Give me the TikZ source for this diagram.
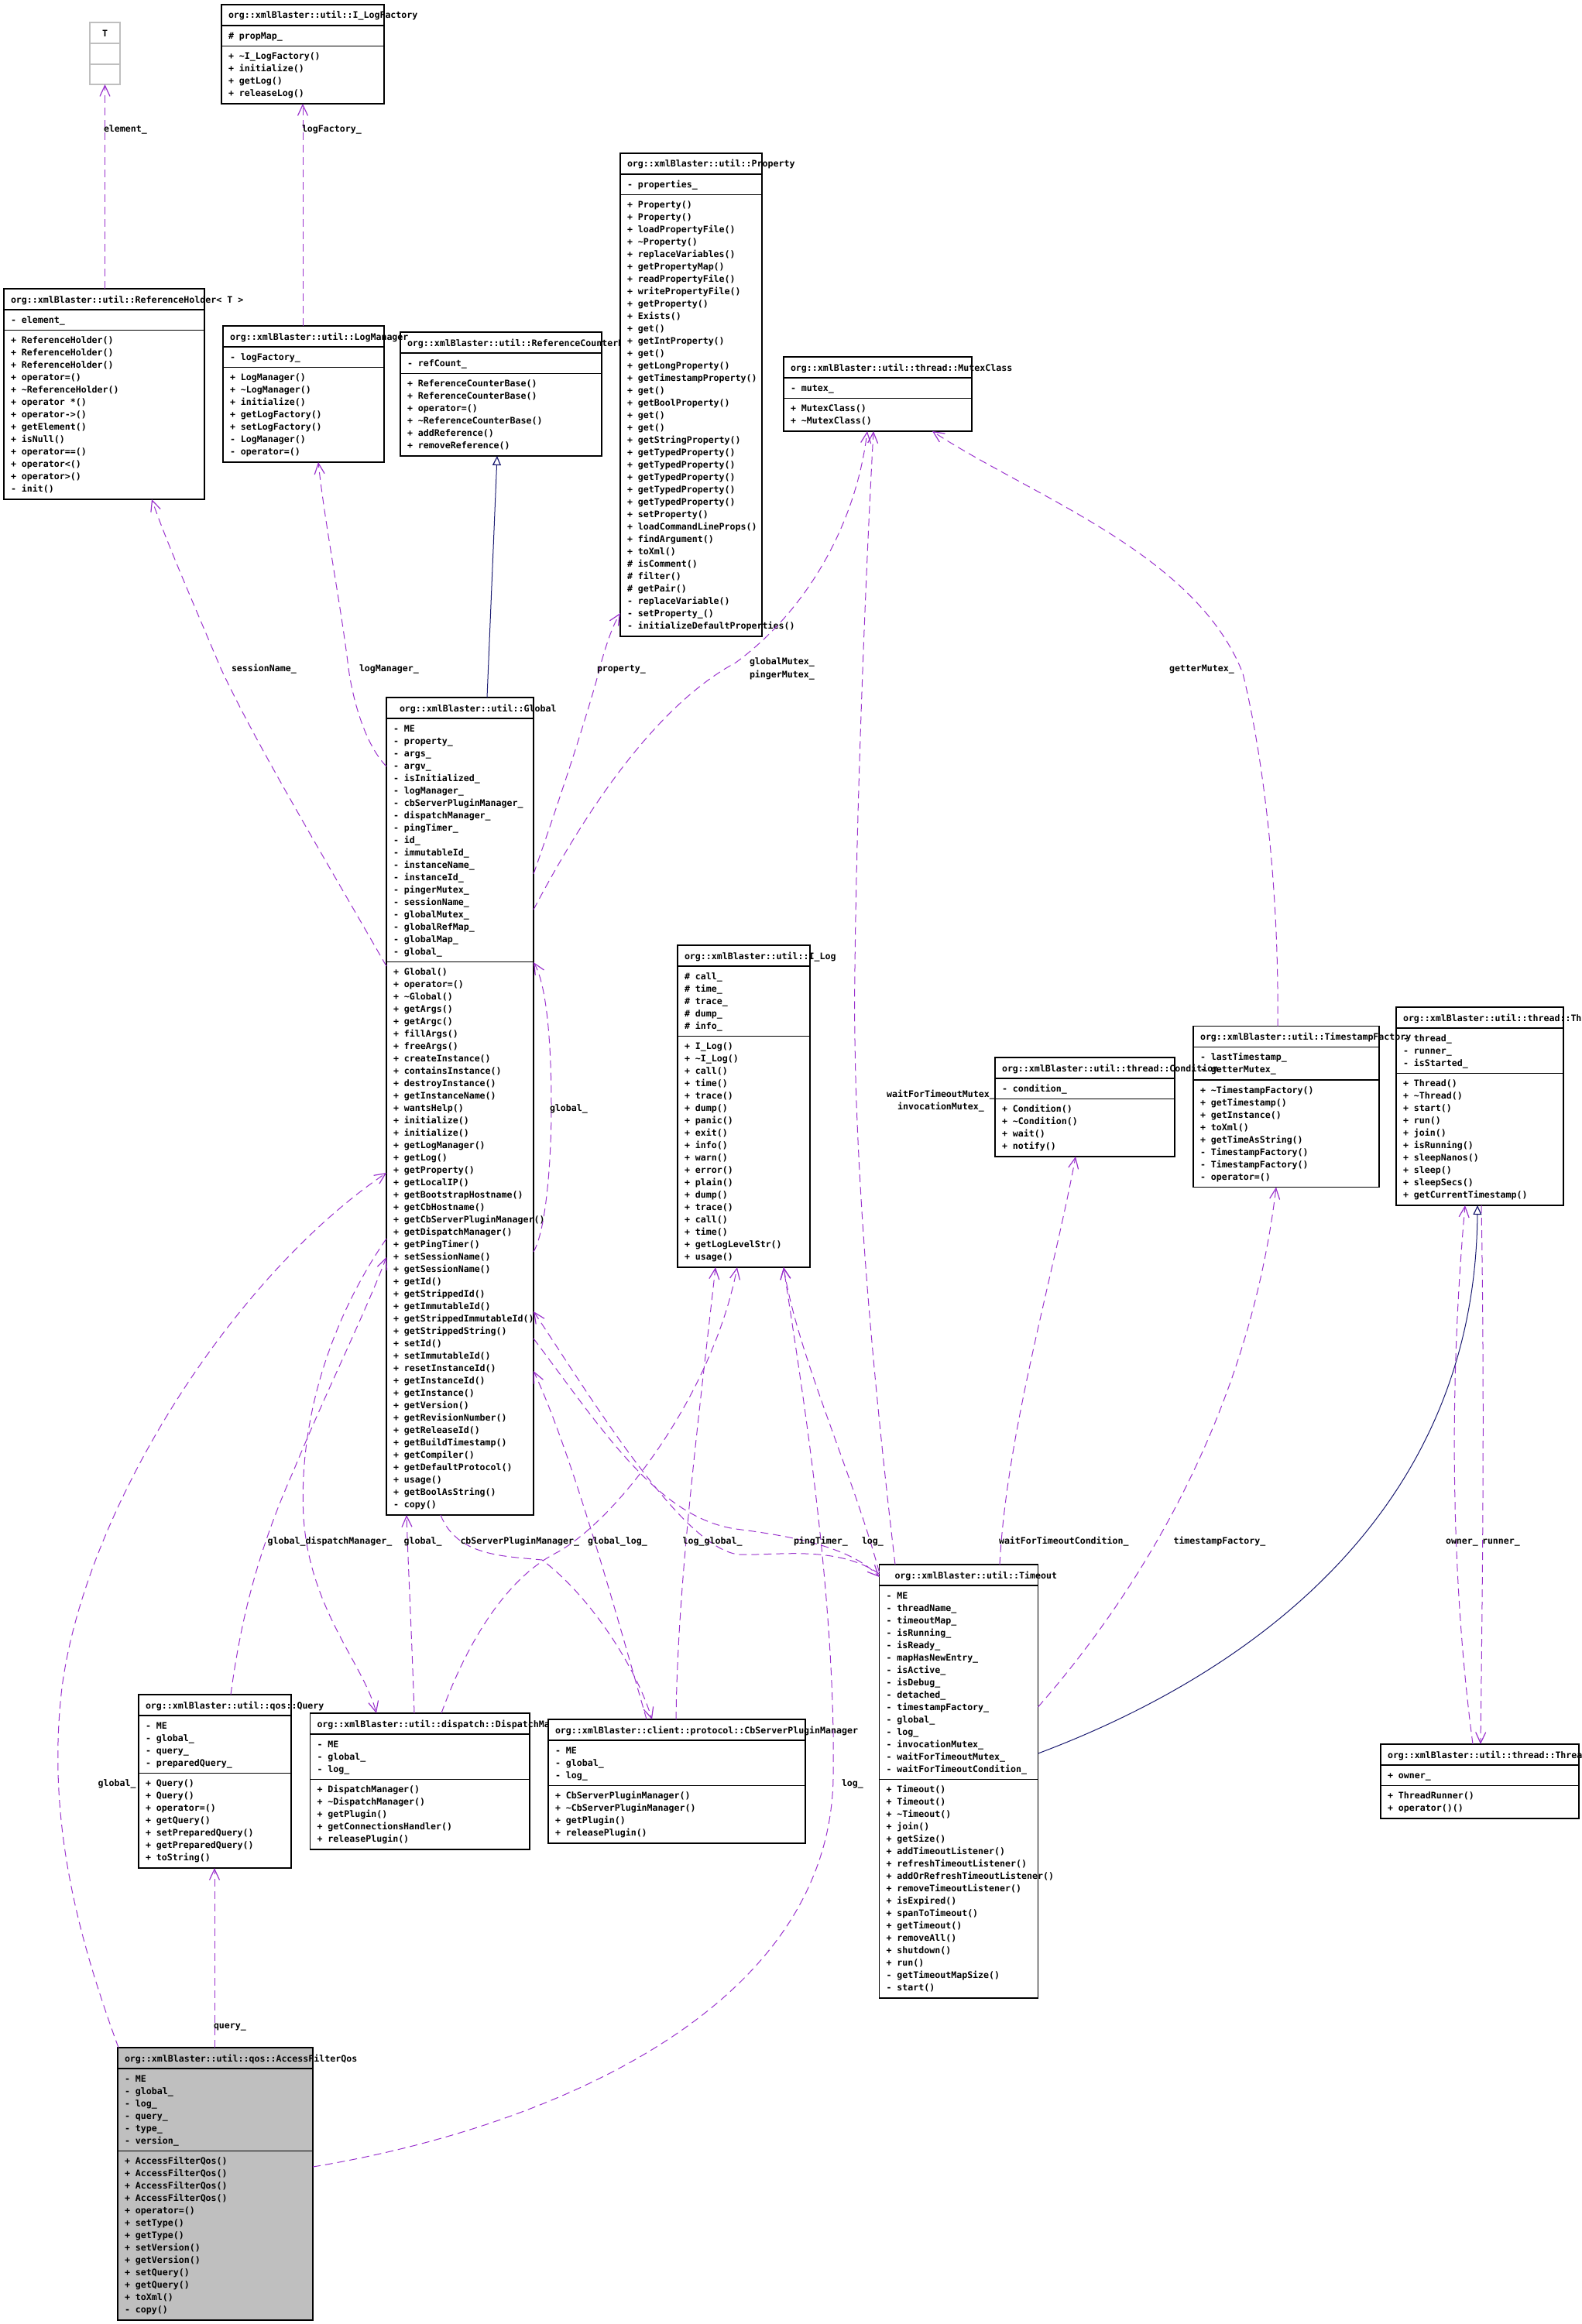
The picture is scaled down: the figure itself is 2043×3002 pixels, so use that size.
\documentclass[tikz,border=0pt]{standalone}
\usepackage{fontspec}
\setmonofont{DejaVu Sans Mono}
\usetikzlibrary{arrows.meta,calc}
\definecolor{usec}{HTML}{9A32CD}
\definecolor{inhc}{HTML}{191970}
\definecolor{gfill}{HTML}{BFBFBF}
\definecolor{tgray}{HTML}{BFBFBF}
\newcommand\tofs{9}
\newcommand\cfill{white}
\tikzset{
  box/.style={draw=black, line width=0.75pt, fill=\cfill, inner sep=0pt, outer sep=0pt},
  divl/.style={draw=black, line width=0.75pt},
  txt/.style={font=\ttfamily\bfseries\fontsize{5.8}{7}\selectfont, inner sep=0pt, outer sep=0pt, anchor=base west},
  use/.style={draw=usec, line width=0.5pt, dash pattern=on 5pt off 3pt, -{Straight Barb[length=7pt,width=6.5pt,line width=0.6pt]}},
  inh/.style={draw=inhc, line width=0.5pt, -{Triangle[open,length=6pt,width=5.5pt,line width=0.6pt]}},
  lbl/.style={txt}
}
% #1 name, #2 x, #3 y, #4 width, #5 n attrs, #6 n methods, #7 title, #8 attrs, #9 methods
\newcommand\umlclass[9]{%
  \pgfmathsetmacro\yA{#3+27}%
  \pgfmathsetmacro\yB{\yA+#5*16+10.5}%
  \pgfmathsetmacro\yC{\yB+#6*16+10.5}%
  \pgfmathsetmacro\bw{#4/2}%
  \pgfmathsetmacro\bh{(\yC-#3)/2}%
  \node[box, minimum width=\bw pt, minimum height=\bh pt, anchor=north west] (#1) at (#2,#3) {};%
  \draw[divl] (#2,\yA) -- ++(#4,0) (#2,\yB) -- ++(#4,0);%
  \node[txt] (#1-t) at (#2+\tofs,#3+18) {#7};%
  \foreach \rowtext [count=\i from 0] in {#8} {\node[txt] (#1-a\i) at (#2+9,\yA+17.25+16*\i) {\rowtext};}%
  \foreach \rowtext [count=\i from 0] in {#9} {\node[txt] (#1-m\i) at (#2+9,\yB+17.25+16*\i) {\rowtext};}%
}
\begin{document}
\begin{tikzpicture}[x=0.5pt,y=-0.5pt]
\useasboundingbox (0,0) rectangle (2043,3002);

% ---- T (undocumented template parameter) ----
\node[box, draw=tgray, minimum width=19.5pt, minimum height=40pt, anchor=north west] (T) at (116,29) {};
\draw[tgray, line width=0.75pt] (116,56) -- ++(39,0) (116,83) -- ++(39,0);
\node[txt, anchor=base] (T-t) at (135.5,48) {T};

\umlclass{ILF}{286}{6}{210}{1}{4}{org::xmlBlaster::util::I\_LogFactory}
 {\# propMap\_}
 {+ \textasciitilde{}I\_LogFactory(), + initialize(), + getLog(), + releaseLog()}

\umlclass{RH}{5}{373}{259}{1}{13}{org::xmlBlaster::util::ReferenceHolder< T >}
 {- element\_}
 {+ ReferenceHolder(), + ReferenceHolder(), + ReferenceHolder(), + operator=(), + \textasciitilde{}ReferenceHolder(), + operator *(), + operator->(), + getElement(), + isNull(), + operator==(), + operator<(), + operator>(), - init()}

\umlclass{RCB}{517}{429}{260}{1}{6}{org::xmlBlaster::util::ReferenceCounterBase}
 {- refCount\_}
 {+ ReferenceCounterBase(), + ReferenceCounterBase(), + operator=(), + \textasciitilde{}ReferenceCounterBase(), + addReference(), + removeReference()}

\umlclass{LM}{288}{421}{208}{1}{7}{org::xmlBlaster::util::LogManager}
 {- logFactory\_}
 {+ LogManager(), + \textasciitilde{}LogManager(), + initialize(), + getLogFactory(), + setLogFactory(), - LogManager(), - operator=()}

\umlclass{Prop}{801}{198}{183}{1}{35}{org::xmlBlaster::util::Property}
 {- properties\_}
 {+ Property(), + Property(), + loadPropertyFile(), + \textasciitilde{}Property(), + replaceVariables(), + getPropertyMap(), + readPropertyFile(), + writePropertyFile(), + getProperty(), + Exists(), + get(), + getIntProperty(), + get(), + getLongProperty(), + getTimestampProperty(), + get(), + getBoolProperty(), + get(), + get(), + getStringProperty(), + getTypedProperty(), + getTypedProperty(), + getTypedProperty(), + getTypedProperty(), + getTypedProperty(), + setProperty(), + loadCommandLineProps(), + findArgument(), + toXml(), \# isComment(), \# filter(), \# getPair(), - replaceVariable(), - setProperty\_(), - initializeDefaultProperties()}

\umlclass{Mutex}{1012}{461}{243}{1}{2}{org::xmlBlaster::util::thread::MutexClass}
 {- mutex\_}
 {+ MutexClass(), + \textasciitilde{}MutexClass()}

\renewcommand\tofs{17}
\umlclass{Global}{499}{901}{190}{19}{44}{org::xmlBlaster::util::Global}
 {- ME, - property\_, - args\_, - argv\_, - isInitialized\_, - logManager\_, - cbServerPluginManager\_, - dispatchManager\_, - pingTimer\_, - id\_, - immutableId\_, - instanceName\_, - instanceId\_, - pingerMutex\_, - sessionName\_, - globalMutex\_, - globalRefMap\_, - globalMap\_, - global\_}
 {+ Global(), + operator=(), + \textasciitilde{}Global(), + getArgs(), + getArgc(), + fillArgs(), + freeArgs(), + createInstance(), + containsInstance(), + destroyInstance(), + getInstanceName(), + wantsHelp(), + initialize(), + initialize(), + getLogManager(), + getLog(), + getProperty(), + getLocalIP(), + getBootstrapHostname(), + getCbHostname(), + getCbServerPluginManager(), + getDispatchManager(), + getPingTimer(), + setSessionName(), + getSessionName(), + getId(), + getStrippedId(), + getImmutableId(), + getStrippedImmutableId(), + getStrippedString(), + setId(), + setImmutableId(), + resetInstanceId(), + getInstanceId(), + getInstance(), + getVersion(), + getRevisionNumber(), + getReleaseId(), + getBuildTimestamp(), + getCompiler(), + getDefaultProtocol(), + usage(), + getBoolAsString(), - copy()}
\renewcommand\tofs{9}

\umlclass{ILog}{875}{1221}{171}{5}{18}{org::xmlBlaster::util::I\_Log}
 {\# call\_, \# time\_, \# trace\_, \# dump\_, \# info\_}
 {+ I\_Log(), + \textasciitilde{}I\_Log(), + call(), + time(), + trace(), + dump(), + panic(), + exit(), + info(), + warn(), + error(), + plain(), + dump(), + trace(), + call(), + time(), + getLogLevelStr(), + usage()}

\umlclass{Thread}{1803}{1301}{216}{3}{10}{org::xmlBlaster::util::thread::Thread}
 {- thread\_, - runner\_, - isStarted\_}
 {+ Thread(), + \textasciitilde{}Thread(), + start(), + run(), + join(), + isRunning(), + sleepNanos(), + sleep(), + sleepSecs(), + getCurrentTimestamp()}

\umlclass{TSF}{1541}{1325.5}{240}{2}{8}{org::xmlBlaster::util::TimestampFactory}
 {- lastTimestamp\_, - getterMutex\_}
 {+ \textasciitilde{}TimestampFactory(), + getTimestamp(), + getInstance(), + toXml(), + getTimeAsString(), - TimestampFactory(), - TimestampFactory(), - operator=()}

\umlclass{Cond}{1285}{1366}{232}{1}{4}{org::xmlBlaster::util::thread::Condition}
 {- condition\_}
 {+ Condition(), + \textasciitilde{}Condition(), + wait(), + notify()}

\umlclass{TR}{1783}{2253}{256}{1}{2}{org::xmlBlaster::util::thread::ThreadRunner}
 {+ owner\_}
 {+ ThreadRunner(), + operator()()}

\renewcommand\tofs{20}
\umlclass{Timeout}{1135.5}{2021}{205}{15}{17}{org::xmlBlaster::util::Timeout}
 {- ME, - threadName\_, - timeoutMap\_, - isRunning\_, - isReady\_, - mapHasNewEntry\_, - isActive\_, - isDebug\_, - detached\_, - timestampFactory\_, - global\_, - log\_, - invocationMutex\_, - waitForTimeoutMutex\_, - waitForTimeoutCondition\_}
 {+ Timeout(), + Timeout(), + \textasciitilde{}Timeout(), + join(), + getSize(), + addTimeoutListener(), + refreshTimeoutListener(), + addOrRefreshTimeoutListener(), + removeTimeoutListener(), + isExpired(), + spanToTimeout(), + getTimeout(), + removeAll(), + shutdown(), + run(), - getTimeoutMapSize(), - start()}
\renewcommand\tofs{9}

\umlclass{Query}{179}{2189}{197}{4}{7}{org::xmlBlaster::util::qos::Query}
 {- ME, - global\_, - query\_, - preparedQuery\_}
 {+ Query(), + Query(), + operator=(), + getQuery(), + setPreparedQuery(), + getPreparedQuery(), + toString()}

\umlclass{DM}{400.5}{2213}{283.5}{3}{5}{org::xmlBlaster::util::dispatch::DispatchManager}
 {- ME, - global\_, - log\_}
 {+ DispatchManager(), + \textasciitilde{}DispatchManager(), + getPlugin(), + getConnectionsHandler(), + releasePlugin()}

\umlclass{CbSPM}{708}{2221}{332}{3}{4}{org::xmlBlaster::client::protocol::CbServerPluginManager}
 {- ME, - global\_, - log\_}
 {+ CbServerPluginManager(), + \textasciitilde{}CbServerPluginManager(), + getPlugin(), + releasePlugin()}

\renewcommand\cfill{gfill}
\umlclass{AFQ}{152}{2645}{252}{6}{13}{org::xmlBlaster::util::qos::AccessFilterQos}
 {- ME, - global\_, - log\_, - query\_, - type\_, - version\_}
 {+ AccessFilterQos(), + AccessFilterQos(), + AccessFilterQos(), + AccessFilterQos(), + operator=(), + setType(), + getType(), + setVersion(), + getVersion(), + setQuery(), + getQuery(), + toXml(), - copy()}
\renewcommand\cfill{white}

% ================= connectors =================
\draw[use] (T.south |- RH.north) -- (T.south);
\draw[use] (ILF.south |- LM.north) -- (ILF.south);
\draw[inh] ($(Global.north west)+(130,0)$) -- ($(RCB.north west)+(125,160)$);
% sessionName_
\draw[use] ($(Global.north west)+(0,347)$) .. controls (420,1110) and (330,960) .. (285,863) .. controls (250,780) and (215,700) .. ($(RH.north west)+(191,272)$);
% logManager_
\draw[use] ($(Global.north west)+(0,89)$) .. controls (470,960) and (455,900) .. (450,863) .. controls (440,780) and (420,680) .. ($(LM.north west)+(123,176)$);
% property_
\draw[use] ($(Global.north west)+(190,228)$) .. controls (720,1040) and (750,950) .. (770,880) .. controls (780,840) and (790,810) .. ($(Prop.north west)+(0,594)$);
% globalMutex_ pingerMutex_
\draw[use] ($(Global.north west)+(190,274)$) .. controls (760,1040) and (850,910) .. (950,856) .. controls (1040,790) and (1105,680) .. ($(Mutex.north west)+(108,96)$);
% waitForTimeoutMutex_ invocationMutex_
\draw[use] ($(Timeout.north west)+(20.5,0)$) .. controls (1130,1800) and (1100,1500) .. (1104,1250) .. controls (1107,1000) and (1120,700) .. ($(Mutex.north west)+(116,96)$);
% getterMutex_
\draw[use] ($(TSF.north west)+(109,0)$) .. controls (1652,1150) and (1632,980) .. (1605,870) .. controls (1545,715) and (1330,640) .. ($(Mutex.north west)+(192,96)$);
% global_ self loop
\draw[use] ($(Global.north west)+(190,716)$) .. controls (705,1590) and (712,1500) .. (712,1430) .. controls (712,1340) and (705,1270) .. ($(Global.north west)+(190,342)$);
% Query global_
\draw[use] ($(Query.north west)+(119,0)$) .. controls (310,2100) and (330,2010) .. (379,1900) .. controls (420,1800) and (470,1700) .. ($(Global.north west)+(0,723)$);
% DispatchManager global_
\draw[use] ($(DM.north west)+(134.5,0)$) .. controls (532,2120) and (527,2020) .. ($(Global.north west)+(26,1056)$);
% dispatchManager_
\draw[use] ($(Global.north west)+(0,699)$) .. controls (430,1700) and (385,1830) .. (392,1960) .. controls (400,2080) and (470,2150) .. ($(DM.north west)+(85.5,0)$);
% CbServerPluginManager global_
\draw[use] ($(CbSPM.north west)+(127,0)$) .. controls (800,2100) and (740,1880) .. ($(Global.north west)+(190,870)$);
% cbServerPluginManager_
\draw[use] ($(Global.north west)+(70,1056)$) .. controls (590,2010) and (650,2010) .. (700,2015) .. controls (760,2060) and (820,2150) .. ($(CbSPM.north west)+(134,0)$);
% pingTimer_
\draw[use] ($(Global.north west)+(190,828)$) .. controls (780,1850) and (850,1960) .. (950,1975) .. controls (1030,1985) and (1100,2000) .. ($(Timeout.north west)+(0,16)$);
% Timeout global_
\draw[use] ($(Timeout.north west)+(0,12)$) .. controls (1080,1995) and (1000,2010) .. (954,2008) .. controls (880,2000) and (760,1800) .. ($(Global.north west)+(190,793)$);
% DispatchManager log_
\draw[use] ($(DM.north west)+(169.5,0)$) .. controls (600,2130) and (650,2040) .. (720,2005) .. controls (800,1960) and (920,1800) .. ($(ILog.north west)+(77,416)$);
% CbServerPluginManager log_
\draw[use] ($(CbSPM.north west)+(165,0)$) .. controls (875,2050) and (900,1850) .. ($(ILog.north west)+(49,416)$);
% Timeout log_
\draw[use] ($(Timeout.north west)+(0,10)$) .. controls (1100,1900) and (1030,1750) .. ($(ILog.north west)+(137,416)$);
% AccessFilterQos log_
\draw[use] ($(AFQ.north west)+(252,154)$) .. controls (700,2750) and (1070,2600) .. (1076,2298) .. controls (1080,2050) and (1030,1760) .. ($(ILog.north west)+(137,416)$);
% waitForTimeoutCondition_
\draw[use] ($(Timeout.north west)+(155.5,0)$) .. controls (1300,1850) and (1360,1650) .. ($(Cond.north west)+(104,128)$);
% timestampFactory_
\draw[use] ($(Timeout.north west)+(205,184)$) .. controls (1450,2080) and (1610,1850) .. ($(TSF.north west)+(107,208)$);
% Timeout inherits Thread
\draw[inh] ($(Timeout.north west)+(205,244)$) .. controls (1620,2160) and (1905,1950) .. ($(Thread.north west)+(105,256)$);
% owner_
\draw[use] ($(TR.north west)+(119,0)$) .. controls (1875,2050) and (1870,1800) .. ($(Thread.north west)+(89,256)$);
% runner_
\draw[use] ($(Thread.north west)+(110,256)$) .. controls (1917,1800) and (1915,2000) .. ($(TR.north west)+(129,0)$);
% query_
\draw[use] ($(AFQ.north west)+(125,0)$) -- ($(Query.north west)+(98,224)$);
% AccessFilterQos global_
\draw[use] ($(AFQ.north west)+(1,0)$) .. controls (100,2500) and (60,2350) .. (80,2180) .. controls (110,1950) and (300,1650) .. ($(Global.north west)+(0,614)$);

% ================= labels =================
\node[lbl] (l1) at (134,171) {element\_};
\node[lbl] (l2) at (390,171) {logFactory\_};
\node[lbl] (l3) at (299,867) {sessionName\_};
\node[lbl] (l4) at (464,867) {logManager\_};
\node[lbl] (l5) at (771,867) {property\_};
\node[lbl] (l6) at (968,858) {globalMutex\_};
\node[lbl] (l7) at (968,875) {pingerMutex\_};
\node[lbl] (l8) at (1510,867) {getterMutex\_};
\node[lbl] (l9) at (710,1435) {global\_};
\node[lbl, anchor=base] (l10) at (1215,1417) {waitForTimeoutMutex\_};
\node[lbl, anchor=base] (l11) at (1215,1433) {invocationMutex\_};
\node[lbl] (l12) at (345.6,1994) {global\_};
\node[lbl] (l13) at (394.6,1994) {dispatchManager\_};
\node[lbl] (l14) at (521.7,1994) {global\_};
\node[lbl] (l15) at (594.5,1994) {cbServerPluginManager\_};
\node[lbl] (l16) at (759,1994) {global\_};
\node[lbl] (l17) at (808,1994) {log\_};
\node[lbl] (l18) at (881.7,1994) {log\_};
\node[lbl] (l19) at (909.7,1994) {global\_};
\node[lbl] (l20) at (1025,1994) {pingTimer\_};
\node[lbl] (l21) at (1113,1994) {log\_};
\node[lbl] (l22) at (1290,1994) {waitForTimeoutCondition\_};
\node[lbl] (l23) at (1515.5,1994) {timestampFactory\_};
\node[lbl] (l24) at (1867,1994) {owner\_};
\node[lbl] (l25) at (1914,1994) {runner\_};
\node[lbl] (l26) at (126.7,2307) {global\_};
\node[lbl] (l27) at (1087,2307) {log\_};
\node[lbl] (l28) at (276,2620) {query\_};
\end{tikzpicture}
\end{document}
